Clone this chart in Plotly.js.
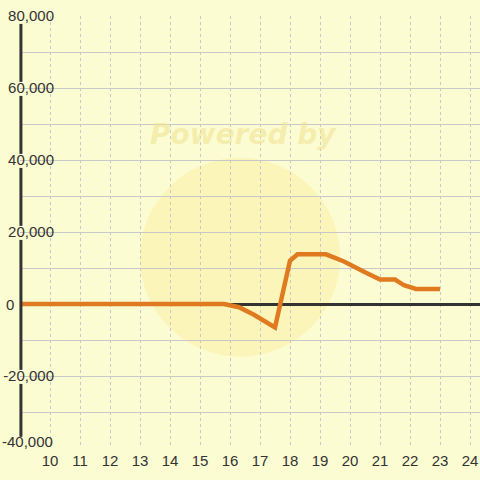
<!DOCTYPE html>
<html><head><meta charset="utf-8">
<script src="https://cdn.plot.ly/plotly-3.0.1.min.js"></script>
<style>html,body{margin:0;padding:0;background:#fcfcd2;}#chart{width:480px;height:480px;}</style>
</head><body><div id="chart"></div>
<script>
const xValues = [9, 15.8, 16.3, 16.8, 17.5, 18.0, 18.25, 19.2, 19.8, 20.2, 20.5, 21.0, 21.5, 21.8, 22.2, 23.0];
const yValues = [0, 0, -900, -3000, -6500, 12000, 13800, 13800, 11800, 10000, 8800, 6800, 6800, 5200, 4200, 4200];
const xTicks = [10, 11, 12, 13, 14, 15, 16, 17, 18, 19, 20, 21, 22, 23, 24];
const yTickVals = [-40000, -20000, 0, 20000, 40000, 60000, 80000];
const yTickText = ['-40,000', '-20,000', '0', '20,000', '40,000', '60,000', '80,000'];

(function () {
const bg = '#fcfcd2';
const font = {family: 'Liberation Sans, Arial, sans-serif', size: 15, color: '#333333'};
// y-axis bar, broken where tick labels overlap it
const gaps = [[61700, 57800], [41700, 37800], [21700, 17800], [-18300, -22200]];
const segs = [];
let segTop = 77800;
gaps.forEach(g => { segs.push([segTop, g[0]]); segTop = g[1]; });
segs.push([segTop, -36900]);
const shapes = segs.map(s => ({type: 'line', xref: 'paper', yref: 'y', x0: 0.002, x1: 0.002, y0: s[0], y1: s[1],
  line: {color: '#333333', width: 3}, layer: 'above'}));
shapes.push({type: 'circle', xref: 'x', yref: 'y', x0: 13.0, x1: 19.67, y0: -14600, y1: 40600,
  fillcolor: 'rgba(250,232,140,0.35)', line: {width: 0}, layer: 'below'});

const tickTextShown = yTickText.map((t, i) => (yTickVals[i] === 0 || i === 0) ? '' : t);
const annotations = [
  {text: '<b><i>Powered by</i></b>', xref: 'x', yref: 'y', x: 16.45, y: 47000,
    showarrow: false, font: {family: 'DejaVu Sans, sans-serif', size: 28, color: 'rgba(240,228,150,0.6)'}},
  {text: yTickText[2], xref: 'paper', yref: 'y', x: -0.009, y: yTickVals[2], xanchor: 'right', yanchor: 'middle',
    showarrow: false, font: font},
  {text: yTickText[0], xref: 'paper', yref: 'y', x: 0.076, y: yTickVals[0], xanchor: 'right', yanchor: 'middle',
    yshift: 7, showarrow: false, font: font}
];

Plotly.newPlot('chart', [{
  x: xValues, y: yValues, type: 'scatter', mode: 'lines',
  line: {color: '#e07a20', width: 4.5}, hoverinfo: 'skip', cliponaxis: false
}], {
  width: 480, height: 480,
  paper_bgcolor: bg, plot_bgcolor: bg,
  margin: {l: 20, r: 0, t: 16, b: 32, pad: 0},
  showlegend: false,
  xaxis: {range: [9, 24.3333], tickvals: xTicks, ticktext: xTicks.map(String), automargin: false,
    showgrid: true, gridcolor: '#c8c8c8', griddash: '3px,3px', gridwidth: 1,
    zeroline: false, showline: false, ticks: '', ticklabelstandoff: 2,
    tickfont: font},
  yaxis: {range: [-40000, 80000], tickvals: yTickVals, ticktext: tickTextShown, automargin: false,
    showgrid: true, gridcolor: '#c8c8c8', gridwidth: 1,
    minor: {dtick: 10000, tick0: 0, showgrid: true, gridcolor: '#c8c8c8', gridwidth: 1, ticks: ''},
    zeroline: true, zerolinecolor: '#333333', zerolinewidth: 3,
    showline: false, ticks: '', ticklabelstandoff: -35,
    tickfont: font},
  shapes: shapes,
  annotations: annotations
}, {displayModeBar: false, staticPlot: true});
})();
</script></body></html>
